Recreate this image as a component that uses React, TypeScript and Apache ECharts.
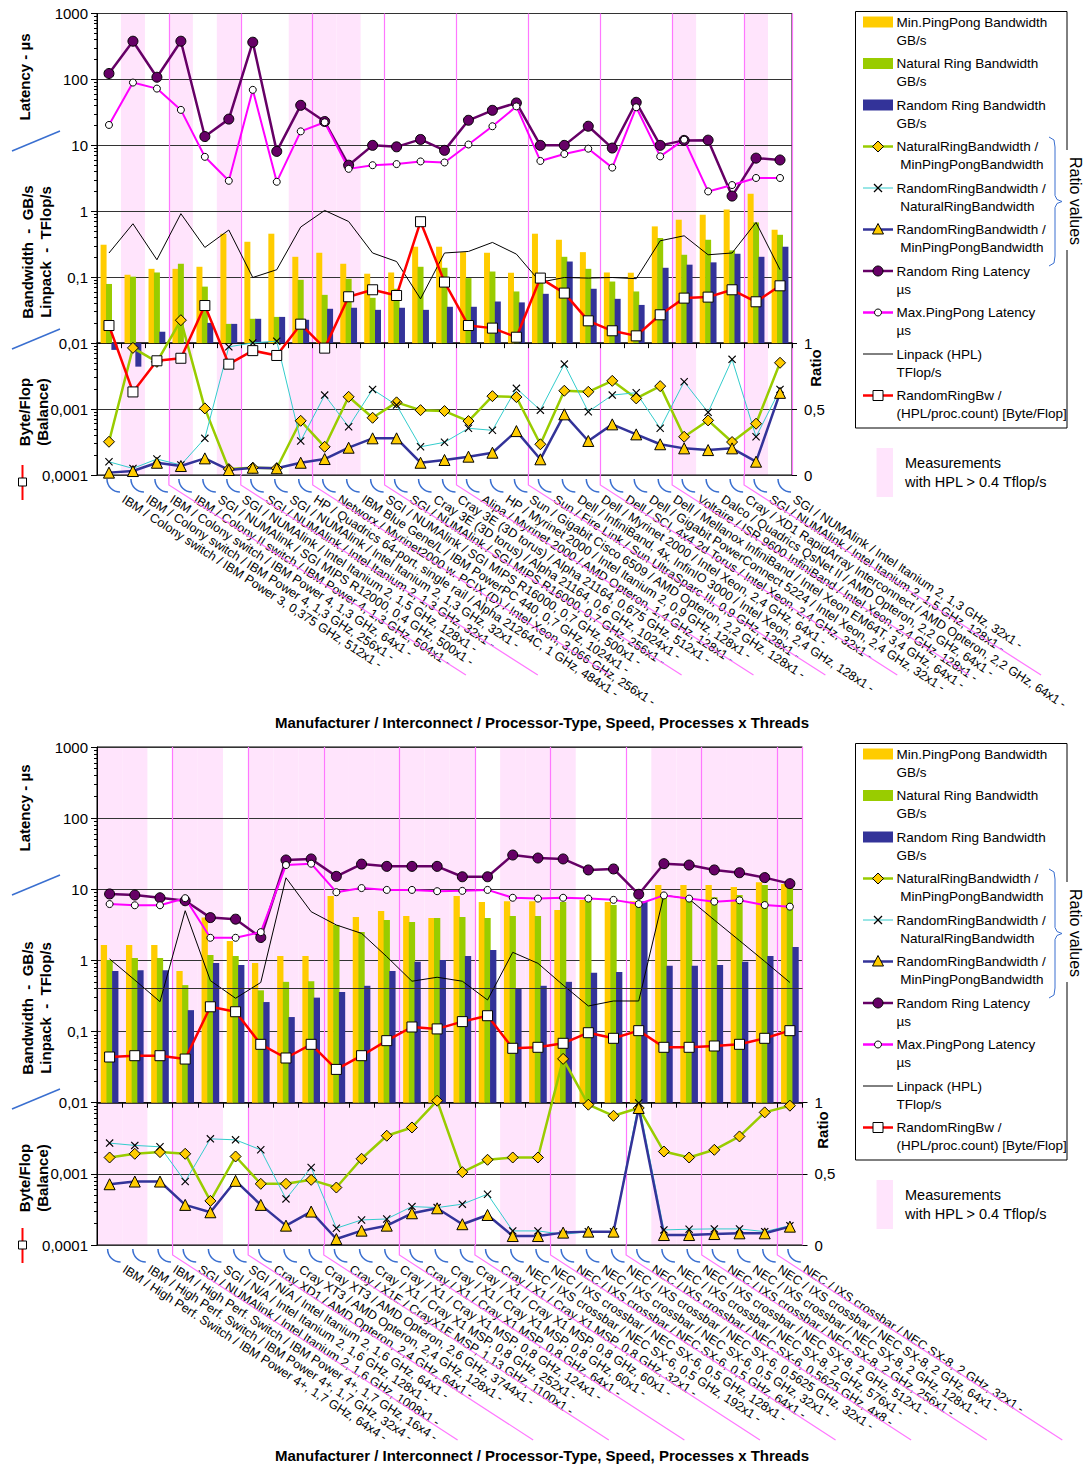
import React, { useEffect, useRef } from "react";
import * as echarts from "echarts";

const FONT = '"Liberation Sans", Arial, Helvetica, sans-serif';

// ---------------- TOP PANEL DATA ----------------
const topCategories = [
  "IBM / Colony switch / IBM Power 3, 0,375 GHz, 512x1",
  "IBM / Colony switch / IBM Power 4, 1,3 GHz, 256x1",
  "IBM / Colony switch / IBM Power 4, 1,3 GHz, 64x1",
  "IBM / Colony II switch / IBM Power 4, 1,3 GHz, 504x1",
  "SGI / NUMAlink / SGI MIPS R12000, 0,4 GHz, 500x1",
  "SGI / NUMAlink / Intel Itanium 2, 1,5 GHz, 128x1",
  "SGI / NUMAlink / Intel Itanium 2, 1,3 GHz, 32x1",
  "SGI / NUMAlink / Intel Itanium 2, 1,3 GHz, 32x1 ",
  "HP / Quadrics 64-port, single rail / Alpha 21264C, 1 GHz, 484x1",
  "Networx / Myrinet2000 w. PCIX (D) / Intel Xeon, 3,066 GHz, 256x1",
  "IBM Blue Gene/L / IBM PowerPC 440, 0,7 GHz, 1024x1",
  "SGI / NUMAlink / SGI MIPS R16000, 0,7 GHz, 500x1",
  "SGI / NUMAlink / SGI MIPS R16000, 0,7 GHz, 256x1",
  "Cray 3E (3D torus) / Alpha 21164, 0,6 GHz, 1024x1",
  "Cray 3E (3D torus) / Alpha 21164, 0,675 GHz, 512x1",
  "Alipa / Myrinet 2000 / AMD Opteron, 1,4 GHz, 128x1",
  "HP / Myrinet 2000 / Intel Itanium 2, 0,9 GHz, 128x1",
  "Sun / Gigabit Cisco 6509 / AMD Opteron, 2,2 GHz, 128x1",
  "Sun / Fire Link / Sun UltraSparc III, 0,9 GHz, 128x1",
  "Dell / InfiniBand, 4x, InfinIO 3000 / Intel Xeon, 2,4 GHz, 128x1",
  "Dell / Myrinet 2000 / Intel Xeon, 2,4 GHz, 64x1",
  "Dell / SCI, 4x4 2d Torus / Intel Xeon, 2,4 GHz, 32x1",
  "Dell / Gigabit PowerConnect 5224 / Intel Xeon, 2,4 GHz, 32x1",
  "Dell / Mellanox InfiniBand / Intel Xeon EM64T, 3,4 GHz, 64x1",
  "Voltaire / ISR 9600 InfiniBand / Intel Xeon, 2,4 GHz, 128x1",
  "Dalco / Quadrics QsNet II / AMD Opteron, 2,2 GHz, 64x1",
  "Cray / XD1 RapidArray Interconnect / AMD Opteron, 2,2 GHz, 64x1",
  "SGI / NUMAlink / Intel Itanium 2, 1,5 GHz, 128x1",
  "SGI / NUMAlink / Intel Itanium 2, 1,3 GHz, 32x1  ",
];
const topMinPingPongBw = [0.311, 0.109, 0.134, 0.134, 0.144, 0.457, 0.345, 0.457, 0.204, 0.235, 0.16, 0.113, 0.118, 0.29, 0.29, 0.24, 0.235, 0.117, 0.457, 0.37, 0.24, 0.118, 0.117, 0.59, 0.745, 0.887, 1.06, 1.85, 0.525];
const topNaturalRingBw = [0.079, 0.102, 0.118, 0.16, 0.072, 0.0196, 0.0234, 0.025, 0.0914, 0.054, 0.0946, 0.0487, 0.0668, 0.144, 0.139, 0.097, 0.122, 0.0608, 0.086, 0.204, 0.134, 0.086, 0.0608, 0.393, 0.219, 0.37, 0.255, 0.678, 0.44];
const topRandomRingBw = [0.0079, 0.0044, 0.0149, 0.0098, 0.0203, 0.0196, 0.0234, 0.025, 0.0226, 0.0332, 0.0344, 0.032, 0.0344, 0.032, 0.0356, 0.0356, 0.0428, 0.0415, 0.056, 0.173, 0.0668, 0.047, 0.038, 0.139, 0.155, 0.168, 0.227, 0.204, 0.29];
const topRatioNatRingMinPP = [0.252, 0.964, 0.858, 1.174, 0.505, 0.045, 0.055, 0.051, 0.411, 0.214, 0.593, 0.434, 0.551, 0.492, 0.485, 0.409, 0.598, 0.591, 0.233, 0.639, 0.631, 0.714, 0.581, 0.674, 0.29, 0.414, 0.25, 0.389, 0.851];
const topRatioRandRingNatRing = [0.1, 0.05, 0.121, 0.076, 0.278, 0.972, 1.002, 1.015, 0.258, 0.606, 0.366, 0.649, 0.53, 0.214, 0.248, 0.354, 0.339, 0.657, 0.492, 0.841, 0.48, 0.606, 0.624, 0.354, 0.707, 0.475, 0.877, 0.29, 0.649];
const topRatioRandRingMinPP = [0.018, 0.03, 0.093, 0.068, 0.126, 0.038, 0.055, 0.051, 0.093, 0.121, 0.207, 0.278, 0.278, 0.093, 0.114, 0.139, 0.169, 0.333, 0.119, 0.46, 0.258, 0.384, 0.308, 0.233, 0.202, 0.189, 0.202, 0.101, 0.623];
const topRandRingLatency = [123, 380, 108, 380, 13.6, 25, 367, 8.1, 40.5, 23, 5.0, 10, 9.5, 12.3, 8.4, 24, 34, 44, 10, 10, 19.5, 9.1, 45, 10, 11.9, 12, 1.7, 6.4, 6.0];
const topMaxPingPongLatency = [20.4, 89.6, 72.6, 34.5, 6.7, 2.9, 69.5, 2.8, 16.3, 22.4, 4.4, 5.0, 5.2, 5.7, 5.5, 10.3, 19.5, 39, 5.8, 7.4, 8.9, 4.6, 37.8, 6.8, 12.2, 2.0, 2.5, 3.2, 3.2];
const topLinpack = [0.233, 0.647, 0.184, 0.92, 0.283, 0.52, 0.099, 0.13, 0.577, 1.03, 0.70, 0.233, 0.173, 0.047, 0.233, 0.246, 0.337, 0.224, 0.084, 0.099, 0.097, 0.099, 0.095, 0.357, 0.425, 0.219, 0.233, 0.678, 0.13];
const topByteFlop = [0.0185, 0.00182, 0.0054, 0.0059, 0.0372, 0.0048, 0.0077, 0.0065, 0.0194, 0.0084, 0.0505, 0.0645, 0.0528, 0.695, 0.0843, 0.0185, 0.0169, 0.0123, 0.097, 0.0574, 0.0218, 0.0154, 0.0129, 0.0269, 0.0482, 0.0499, 0.0645, 0.0424, 0.0741];
const topHighHplIndex = [1, 3, 5, 8, 9, 10, 24, 27];

// ---------------- BOTTOM PANEL DATA ----------------
const bottomCategories = [
  "IBM / High Perf. Switch / IBM Power 4+, 1,7 GHz, 64x4",
  "IBM / High Perf. Switch / IBM Power 4+, 1,7 GHz, 32x4",
  "IBM / High Perf. Switch / IBM Power 4+, 1,7 GHz, 16x4",
  "SGI / NUMAlink / Intel Itanium 2, 1,6 GHz, 1008x1",
  "SGI / N/A / Intel Itanium 2, 1,6 GHz, 128x1",
  "SGI / N/A / Intel Itanium 2, 1,6 GHz, 64x1",
  "Cray XD1 / AMD Opteron, 2,4 GHz, 64x1",
  "Cray XT3 / AMD Opteron, 2,4 GHz, 128x1",
  "Cray XT3 / AMD Opteron, 2,6 GHz, 3744x1",
  "Cray / X1E / CrayX1E MSP, 1,13 GHz, 1100x1",
  "Cray / X1 / Cray X1 MSP, 0,8 GHz, 252x1",
  "Cray / X1 / Cray X1 MSP, 0,8 GHz, 124x1",
  "Cray / X1 / Cray X1 MSP, 0,8 GHz, 64x1",
  "Cray / X1 / Cray X1 MSP, 0,8 GHz, 60x1",
  "Cray / X1 / Cray X1 MSP, 0,8 GHz, 60x1 ",
  "Cray / X1 / Cray X1 MSP, 0,8 GHz, 32x1",
  "NEC / IXS crossbar / NEC SX-6, 0,5 GHz, 192x1",
  "NEC / IXS crossbar / NEC SX-6, 0,5 GHz, 128x1",
  "NEC / IXS crossbar / NEC SX-6, 0,5 GHz, 64x1",
  "NEC / IXS crossbar / NEC SX-6, 0,5 GHz, 32x1",
  "NEC / IXS crossbar / NEC SX-6, 0,5625 GHz, 32x1",
  "NEC / IXS crossbar / NEC SX-6, 0,5625 GHz, 4x8",
  "NEC / IXS crossbar / NEC SX-8, 2 GHz, 576x1",
  "NEC / IXS crossbar / NEC SX-8, 2 GHz, 512x1",
  "NEC / IXS crossbar / NEC SX-8, 2 GHz, 256x1",
  "NEC / IXS crossbar / NEC SX-8, 2 GHz, 128x1",
  "NEC / IXS crossbar / NEC SX-8, 2 GHz, 64x1",
  "NEC / IXS crossbar / NEC SX-8, 2 GHz, 32x1",
];
const bottomMinPingPongBw = [1.65, 1.65, 1.65, 0.71, 4.0, 1.87, 0.92, 1.15, 1.15, 8.05, 4.07, 4.96, 4.2, 3.94, 8.05, 6.6, 6.8, 6.8, 5.1, 7.06, 6.6, 6.8, 11.5, 11.5, 11.5, 10.8, 12.6, 11.9];
const bottomNaturalRingBw = [1.01, 1.08, 1.08, 0.45, 1.19, 1.15, 0.38, 0.5, 0.51, 3.15, 2.5, 3.7, 3.47, 3.94, 4.07, 3.94, 4.2, 4.2, 6.6, 7.06, 6.0, 6.8, 7.9, 8.05, 7.7, 8.3, 11.5, 11.5];
const bottomRandomRingBw = [0.71, 0.73, 0.73, 0.2, 0.92, 0.86, 0.26, 0.16, 0.3, 0.36, 0.44, 0.71, 0.96, 1.01, 1.15, 1.4, 0.41, 0.44, 0.5, 0.67, 0.69, 6.8, 0.84, 0.84, 0.86, 0.96, 1.15, 1.55];
const bottomRatioNatRingMinPP = [0.615, 0.641, 0.653, 0.641, 0.31, 0.622, 0.43, 0.43, 0.458, 0.404, 0.606, 0.768, 0.826, 1.014, 0.512, 0.599, 0.615, 0.615, 1.308, 0.986, 0.908, 0.963, 0.657, 0.615, 0.669, 0.763, 0.932, 0.979];
const bottomRatioRandRingNatRing = [0.716, 0.7, 0.69, 0.446, 0.746, 0.739, 0.669, 0.324, 0.545, 0.118, 0.176, 0.183, 0.27, 0.263, 0.287, 0.357, 0.099, 0.099, 0.075, 0.094, 0.094, 0.998, 0.106, 0.111, 0.113, 0.113, 0.094, 0.136];
const bottomRatioRandRingMinPP = [0.427, 0.446, 0.446, 0.282, 0.23, 0.451, 0.282, 0.136, 0.235, 0.042, 0.101, 0.136, 0.223, 0.258, 0.146, 0.211, 0.063, 0.063, 0.087, 0.094, 0.094, 0.963, 0.07, 0.07, 0.077, 0.082, 0.082, 0.129];
const bottomRandRingLatency = [8.6, 8.3, 7.6, 6.9, 4.0, 3.8, 2.1, 25.8, 26.7, 15.2, 22.6, 21, 21, 21, 15.0, 15.0, 30.3, 27.5, 26.7, 18.7, 19.3, 8.5, 22.9, 21.9, 18.7, 17.1, 14.6, 12.0];
const bottomMaxPingPongLatency = [6.2, 5.96, 5.96, 7.5, 2.08, 2.08, 2.5, 21.9, 22.9, 9.1, 10.4, 9.8, 9.8, 9.4, 9.5, 9.8, 7.6, 7.4, 7.6, 7.4, 7.1, 6.2, 8.2, 7.4, 6.7, 7.0, 6.0, 5.7];
const bottomLinpack = [1.05, 0.53, 0.263, 5.0, 0.52, 0.294, 0.49, 14.5, 4.84, 3.15, 2.4, 1.13, 0.51, 0.58, 0.51, 0.278, 1.3, 0.91, 0.45, 0.229, 0.269, 0.269, 8.3, 7.3, 3.7, 1.9, 0.97, 0.49];
const bottomByteFlop = [0.0439, 0.0458, 0.0458, 0.0411, 0.223, 0.19, 0.0662, 0.0425, 0.0662, 0.0294, 0.0458, 0.0745, 0.116, 0.109, 0.138, 0.167, 0.0582, 0.0601, 0.0684, 0.0964, 0.0804, 0.103, 0.0601, 0.0601, 0.0627, 0.0662, 0.0804, 0.103];
const bottomHighHplIndex = [0, 1, 3, 4, 6, 7, 8, 9, 10, 11, 12, 13, 14, 16, 17, 18, 22, 23, 24, 25, 26, 27];
const bottomHplThreshold = [0.4];

// ---------------- AXIS TICK LABELS ----------------
const ratioTickValues = [0, 0.5, 1];
const logMinorTickValues: number[] = [];
for (let e = -4; e < 3; e++) for (let m = 2; m < 10; m++) logMinorTickValues.push(Number((m * Math.pow(10, e)).toPrecision(2)));

const legendLabels = [
  ["Min.PingPong Bandwidth", "GB/s"],
  ["Natural Ring Bandwidth", "GB/s"],
  ["Random Ring Bandwidth", "GB/s"],
  ["NaturalRingBandwidth /", " MinPingPongBandwidth"],
  ["RandomRingBandwidth /", " NaturalRingBandwidth"],
  ["RandomRingBandwidth /", " MinPingPongBandwidth"],
  ["Random Ring Latency", "µs"],
  ["Max.PingPong Latency", "µs"],
  ["Linpack (HPL)", "TFlop/s"],
  ["RandomRingBw /", "(HPL/proc.count) [Byte/Flop]"],
];
const xAxisTitle = "Manufacturer / Interconnect / Processor-Type, Speed, Processes x Threads";

const C = {
  minPP: "#FFCC00",
  natRing: "#99CC00",
  randRing: "#333399",
  cyan: "#33CCCC",
  rrLat: "#660066",
  ppLat: "#FF00FF",
  red: "#FF0000",
  pink: "#FFE4FC",
  sep: "#FF77FF",
  blue: "#3A6FD0",
};
const X_SYMBOL = "path://M0,1 L1,0 L5,4 L9,0 L10,1 L6,5 L10,9 L9,10 L5,6 L1,10 L0,9 L4,5 Z";

const panels = [
  {
    cats: topCategories, minPP: topMinPingPongBw, natRing: topNaturalRingBw, randRing: topRandomRingBw,
    nrpp: topRatioNatRingMinPP, rrnr: topRatioRandRingNatRing, rrpp: topRatioRandRingMinPP,
    rrLat: topRandRingLatency, ppLat: topMaxPingPongLatency, hpl: topLinpack, balance: topByteFlop,
    shaded: topHighHplIndex, hline: [] as number[],
    top: 13.5, height: 461.5, width: 695, barWidth: 6, diagDx: 297, diagDy: 190,
  },
  {
    cats: bottomCategories, minPP: bottomMinPingPongBw, natRing: bottomNaturalRingBw, randRing: bottomRandomRingBw,
    nrpp: bottomRatioNatRingMinPP, rrnr: bottomRatioRandRingNatRing, rrpp: bottomRatioRandRingMinPP,
    rrLat: bottomRandRingLatency, ppLat: bottomMaxPingPongLatency, hpl: bottomLinpack, balance: bottomByteFlop,
    shaded: bottomHighHplIndex, hline: bottomHplThreshold,
    top: 747, height: 498, width: 705.5, barWidth: 6.3, diagDx: 285, diagDy: 185,
  },
];

const fmtLog = (v: number) => {
  if (v >= 1) return String(Math.round(v));
  return String(Number(v.toPrecision(1))).replace(".", ",");
};
const fmtRatio = (v: number) => (v === 0 ? "0" : v === 0.5 ? "0,5" : v === 1 ? "1" : "");

function buildOption() {
  const grid: any[] = [];
  const xAxis: any[] = [];
  const yAxis: any[] = [];
  const series: any[] = [];
  panels.forEach((p, k) => {
    grid.push({
      left: 97, top: p.top, width: p.width, height: p.height,
      show: true, borderColor: "#000", borderWidth: 1, backgroundColor: "transparent",
      containLabel: false, outerBoundsMode: "none",
    });
    const xi = xAxis.length;
    xAxis.push({
      type: "category", gridIndex: k, data: p.cats, position: "bottom",
      axisLine: { show: false, onZero: false }, axisTick: { show: false }, splitLine: { show: false },
      axisLabel: {
        interval: 0, rotate: -33, margin: 14, fontSize: 12.5, fontFamily: FONT, color: "#000",
        padding: [0, 0, 0, 17], formatter: (v: string) => v.trim() + " -", hideOverlap: false,
      },
    });
    xAxis.push({
      type: "category", gridIndex: k, data: p.cats, position: "bottom", offset: -(2 / 7) * p.height,
      axisLine: { show: true, onZero: false, lineStyle: { color: "#000", width: 1.5 } },
      axisTick: { show: true, interval: 0, length: 5, lineStyle: { color: "#000" } },
      axisLabel: { show: false },
      splitLine: { show: true, interval: (i: number) => i > 0 && i % 3 === 0, lineStyle: { color: C.sep, width: 1.2 } },
    });
    const yl = yAxis.length;
    yAxis.push({
      type: "log", logBase: 10, gridIndex: k, min: 0.0001, max: 1000, startValue: 0.01, splitNumber: 7,
      position: "left",
      axisLine: { show: true, lineStyle: { color: "#000" } },
      axisTick: { show: true, length: 6, lineStyle: { color: "#000" } },
      axisLabel: { fontSize: 15, fontFamily: FONT, color: "#000", margin: 9, formatter: fmtLog },
      splitLine: { show: true, lineStyle: { color: "#333", width: 1 } },
    });
    yAxis.push({
      type: "value", gridIndex: k, min: 0, max: 3.5, interval: 0.5, position: "right",
      axisLine: { show: false },
      axisTick: { show: true, customValues: ratioTickValues, length: 5, lineStyle: { color: "#000" } },
      axisLabel: { customValues: ratioTickValues, fontSize: 15, fontFamily: FONT, color: "#000", margin: 12, formatter: fmtRatio },
      splitLine: { show: false },
    });
    yAxis.push({
      type: "log", logBase: 10, gridIndex: k, min: 0.0001, max: 1000, position: "left",
      axisLine: { show: false },
      axisTick: { show: true, customValues: logMinorTickValues, length: 3, lineStyle: { color: "#000" } },
      axisLabel: { show: false }, splitLine: { show: false },
    });
    const yr = yl + 1;
    // shading of columns with HPL > 0.4 Tflop/s
    series.push({
      type: "bar", name: "Measurements with HPL > 0.4 Tflop/s", xAxisIndex: xi + 1, yAxisIndex: yr,
      data: p.cats.map((_, i) => (p.shaded.includes(i) ? 3.5 : null)),
      barWidth: "100%", itemStyle: { color: C.pink }, silent: true, z: -1,
    });
    const bar = (name: string, data: number[], color: string) => ({
      type: "bar", name, xAxisIndex: xi, yAxisIndex: yl, data, barWidth: p.barWidth, barGap: "-10%",
      itemStyle: { color }, silent: true, z: 1,
    });
    series.push(bar("Min.PingPong Bandwidth GB/s", p.minPP, C.minPP));
    series.push(bar("Natural Ring Bandwidth GB/s", p.natRing, C.natRing));
    series.push(bar("Random Ring Bandwidth GB/s", p.randRing, C.randRing));
    const line = (name: string, data: number[], yIdx: number, color: string, width: number,
      symbol: string, size: number, fill: string, border: string | null, z = 3) => ({
      type: "line", name, xAxisIndex: xi, yAxisIndex: yIdx, data,
      lineStyle: { color, width }, symbol, symbolSize: size, showSymbol: symbol !== "none",
      itemStyle: { color: fill, borderColor: border || fill, borderWidth: border ? 1 : 0 },
      silent: true, z,
    });
    series.push(line("Linpack (HPL) TFlop/s", p.hpl, yl, "#000", 1, "none", 0, "#000", null, 2));
    if (p.hline.length) {
      series[series.length - 1].markLine = {
        silent: true, symbol: ["none", "none"], label: { show: false },
        lineStyle: { color: "#333", width: 1, type: "solid" },
        data: p.hline.map((v) => ({ yAxis: v })),
      };
    }
    series.push(line("NaturalRingBandwidth / MinPingPongBandwidth", p.nrpp, yr, C.natRing, 2.5, "diamond", 11, C.minPP, "#000"));
    series.push(line("RandomRingBandwidth / NaturalRingBandwidth", p.rrnr, yr, C.cyan, 1, X_SYMBOL, 8, "#000", null));
    series.push(line("RandomRingBandwidth / MinPingPongBandwidth", p.rrpp, yr, C.randRing, 2.5, "triangle", 11, C.minPP, "#000"));
    series.push(line("RandomRingBw / (HPL/proc.count) [Byte/Flop]", p.balance, yl, C.red, 2.5, "rect", 10, "#fff", "#000", 4));
    series.push(line("Random Ring Latency µs", p.rrLat, yl, C.rrLat, 2.5, "circle", 10, C.rrLat, "#000", 4));
    series.push(line("Max.PingPong Latency µs", p.ppLat, yl, C.ppLat, 2, "circle", 7, "#fff", "#000", 4));
  });
  return { animation: false, backgroundColor: "#fff", grid, xAxis, yAxis, series };
}

function txt(x: number, y: number, text: string, size: number, opts: any = {}) {
  const align = opts.align || "left";
  return {
    type: "text", x, y, rotation: opts.rotation || 0, silent: true, z: 20,
    style: {
      text, fill: opts.color || "#000", fontSize: size, fontFamily: FONT, fontWeight: opts.bold ? "bold" : "normal",
      align, verticalAlign: "middle", textAlign: align, textVerticalAlign: "middle",
    },
  };
}

function legendMarker(i: number, cy: number): any[] {
  const x0 = 863, x1 = 893, cx = 878;
  const ln = (color: string, w: number) => ({ type: "line", silent: true, z: 20, shape: { x1: x0, y1: cy, x2: x1, y2: cy }, style: { stroke: color, lineWidth: w } });
  const rect = (color: string) => ({ type: "rect", silent: true, z: 20, shape: { x: x0, y: cy - 5.5, width: 30, height: 11 }, style: { fill: color } });
  switch (i) {
    case 0: return [rect(C.minPP)];
    case 1: return [rect(C.natRing)];
    case 2: return [rect(C.randRing)];
    case 3: return [ln(C.natRing, 2.5), { type: "polygon", silent: true, z: 21, shape: { points: [[cx, cy - 5.5], [cx + 5.5, cy], [cx, cy + 5.5], [cx - 5.5, cy]] }, style: { fill: C.minPP, stroke: "#000", lineWidth: 1 } }];
    case 4: return [ln(C.cyan, 1), { type: "line", silent: true, z: 21, shape: { x1: cx - 4, y1: cy - 4, x2: cx + 4, y2: cy + 4 }, style: { stroke: "#000", lineWidth: 1.2 } }, { type: "line", silent: true, z: 21, shape: { x1: cx - 4, y1: cy + 4, x2: cx + 4, y2: cy - 4 }, style: { stroke: "#000", lineWidth: 1.2 } }];
    case 5: return [ln(C.randRing, 2.5), { type: "polygon", silent: true, z: 21, shape: { points: [[cx, cy - 6], [cx + 5.5, cy + 4.5], [cx - 5.5, cy + 4.5]] }, style: { fill: C.minPP, stroke: "#000", lineWidth: 1 } }];
    case 6: return [ln(C.rrLat, 2.5), { type: "circle", silent: true, z: 21, shape: { cx, cy, r: 5 }, style: { fill: C.rrLat, stroke: "#000", lineWidth: 1 } }];
    case 7: return [ln(C.ppLat, 2.5), { type: "circle", silent: true, z: 21, shape: { cx, cy, r: 3.5 }, style: { fill: "#fff", stroke: "#000", lineWidth: 1 } }];
    case 8: return [ln("#000", 1)];
    default: return [ln(C.red, 2.5), { type: "rect", silent: true, z: 21, shape: { x: cx - 5, y: cy - 5, width: 10, height: 10 }, style: { fill: "#fff", stroke: "#000", lineWidth: 1 } }];
  }
}

function staticGraphics(): any[] {
  const g: any[] = [];
  const specs = [
    { dy: 0, lat: 77, bw: 252, bf: 412, sl1: 145, sl2: 343, red: 482, ratioX: 815, ratioY: 368, title: 722 },
    { dy: 732, lat: 808, bw: 1008, bf: 1178, sl1: 889, sl2: 1103, red: 1245, ratioX: 822, ratioY: 1130, title: 1455 },
  ];
  specs.forEach((s) => {
    // legend box
    g.push({ type: "rect", silent: true, z: 19, shape: { x: 855.5, y: 11.5 + s.dy, width: 211.5, height: 416.5 }, style: { fill: "#fff", stroke: "#000", lineWidth: 1 } });
    legendLabels.forEach((lab, i) => {
      const cy = 22 + 41.5 * i + s.dy;
      g.push(...legendMarker(i, cy));
      g.push(txt(896.5, cy, lab[0], 13.5));
      g.push(txt(896.5, cy + 18, lab[1], 13.5));
    });
    // brace + "Ratio values"
    const by0 = 137 + s.dy, by1 = 266 + s.dy, bm = (by0 + by1) / 2;
    g.push({ type: "polyline", silent: true, z: 21, shape: { points: [[1049, by0], [1054, by0 + 3], [1055, by0 + 10], [1055, bm - 6], [1057, bm - 2], [1062, bm], [1057, bm + 2], [1055, bm + 6], [1055, by1 - 10], [1054, by1 - 3], [1049, by1]] }, style: { stroke: C.blue, lineWidth: 1, fill: "none" } });
    g.push({ type: "rect", silent: true, z: 20, shape: { x: 1065, y: 150 + s.dy, width: 20, height: 100 }, style: { fill: "#fff" } });
    g.push(txt(1075, 201 + s.dy, "Ratio values", 16, { rotation: -Math.PI / 2, align: "center" }));
    // shading legend
    g.push({ type: "rect", silent: true, z: 20, shape: { x: 876.5, y: 448 + s.dy, width: 16.5, height: 49 }, style: { fill: C.pink } });
    g.push(txt(905, 463 + s.dy, "Measurements", 14.5));
    g.push(txt(905, 482 + s.dy, "with HPL > 0.4 Tflop/s", 14.5));
    // left axis titles
    g.push(txt(24, s.lat, "Latency - µs", 15, { rotation: Math.PI / 2, align: "center", bold: true }));
    g.push(txt(27, s.bw, "Bandwidth  -  GB/s", 15, { rotation: Math.PI / 2, align: "center", bold: true }));
    g.push(txt(45, s.bw, "Linpack  -  TFlop/s", 15, { rotation: Math.PI / 2, align: "center", bold: true }));
    g.push(txt(24, s.bf, "Byte/Flop", 15, { rotation: Math.PI / 2, align: "center", bold: true }));
    g.push(txt(42, s.bf, "(Balance)", 15, { rotation: Math.PI / 2, align: "center", bold: true }));
    [s.sl1, s.sl2].forEach((y) => {
      g.push({ type: "line", silent: true, z: 20, shape: { x1: 12, y1: y + 6, x2: 60, y2: y - 14 }, style: { stroke: C.blue, lineWidth: 1.5 } });
    });
    g.push({ type: "line", silent: true, z: 20, shape: { x1: 22.5, y1: s.red - 17, x2: 22.5, y2: s.red + 18 }, style: { stroke: C.red, lineWidth: 2 } });
    g.push({ type: "rect", silent: true, z: 21, shape: { x: 18.5, y: s.red - 4, width: 8, height: 8 }, style: { fill: "#fff", stroke: "#000", lineWidth: 1 } });
    // right axis title
    g.push(txt(s.ratioX, s.ratioY, "Ratio", 15, { rotation: Math.PI / 2, align: "center", bold: true }));
    // x axis title
    g.push(txt(542, s.title, xAxisTitle, 15, { align: "center", bold: true }));
  });
  return g;
}

export default function App() {
  const ref = useRef<HTMLDivElement>(null);
  useEffect(() => {
    if (!ref.current) return;
    const chart = echarts.init(ref.current, null, { renderer: "svg" });
    chart.setOption(buildOption() as any);
    const dyn: any[] = [];
    panels.forEach((p, k) => {
      const xs = p.cats.map((_, i) => chart.convertToPixel({ xAxisIndex: 2 * k } as any, i) as unknown as number);
      const bottom = p.top + p.height;
      xs.forEach((x) => {
        dyn.push({ type: "arc", silent: true, z: 5, shape: { cx: x + 11, cy: bottom + 4, r: 13, startAngle: Math.PI / 2, endAngle: Math.PI, clockwise: true }, style: { stroke: C.blue, lineWidth: 1.5, fill: "none" } });
      });
      for (let i = 3; i < xs.length; i += 3) {
        const bx = (xs[i - 1] + xs[i]) / 2;
        dyn.push({ type: "polyline", silent: true, z: 5, shape: { points: [[bx, bottom], [bx, bottom + 10], [bx + p.diagDx, bottom + 10 + p.diagDy]] }, style: { stroke: C.sep, lineWidth: 1.2, fill: "none" } });
      }
    });
    chart.setOption({ graphic: [...staticGraphics(), ...dyn] } as any);
    return () => chart.dispose();
  }, []);
  return <div ref={ref} style={{ position: "absolute", left: 0, top: 0, width: 1086, height: 1466, background: "#fff" }} />;
}
